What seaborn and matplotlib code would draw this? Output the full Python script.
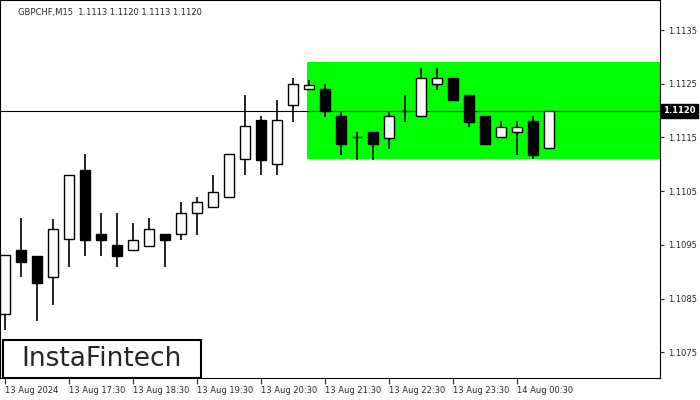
import matplotlib
matplotlib.use("Agg")
import matplotlib.pyplot as plt
import matplotlib.patches as mpatches
import numpy as np
import seaborn as sns

sns.set_style("white")
plt.rcParams['font.family'] = ['DejaVu Sans']

# GBPCHF M15 candles
opens = [1.10821, 1.10940, 1.10929, 1.10890, 1.10961, 1.11089, 1.10970, 1.10949, 1.10940, 1.10948,
         1.10970, 1.10970, 1.11010, 1.11021, 1.11040, 1.11110, 1.11182, 1.11100, 1.11210, 1.11240,
         1.11240, 1.11190, 1.11151, 1.11160, 1.11149, 1.11199, 1.11190, 1.11249, 1.11261, 1.11229,
         1.11190, 1.11151, 1.11160, 1.11180, 1.11130]
closes = [1.10931, 1.10918, 1.10879, 1.10979, 1.11080, 1.10959, 1.10959, 1.10929, 1.10959, 1.10979,
          1.10959, 1.11010, 1.11030, 1.11049, 1.11119, 1.11171, 1.11108, 1.11182, 1.11249, 1.11248,
          1.11199, 1.11138, 1.11151, 1.11138, 1.11190, 1.11199, 1.11261, 1.11261, 1.11220, 1.11179,
          1.11138, 1.11169, 1.11169, 1.11117, 1.11199]
highs = [1.10931, 1.11000, 1.10929, 1.10999, 1.11080, 1.11119, 1.11010, 1.11010, 1.10990, 1.11000,
         1.10970, 1.11030, 1.11040, 1.11080, 1.11119, 1.11229, 1.11190, 1.11220, 1.11261, 1.11257,
         1.11249, 1.11199, 1.11160, 1.11160, 1.11199, 1.11229, 1.11279, 1.11279, 1.11261, 1.11229,
         1.11190, 1.11180, 1.11180, 1.11190, 1.11199]
lows = [1.10791, 1.10890, 1.10808, 1.10838, 1.10908, 1.10929, 1.10929, 1.10908, 1.10940, 1.10948,
        1.10908, 1.10959, 1.10968, 1.11021, 1.11040, 1.11080, 1.11080, 1.11080, 1.11179, 1.11240,
        1.11188, 1.11117, 1.11108, 1.11108, 1.11128, 1.11179, 1.11190, 1.11238, 1.11220, 1.11169,
        1.11138, 1.11151, 1.11117, 1.11110, 1.11130]

box_low, box_high = 1.11110, 1.11290
box_start = 18.9
last_price = 1.1120
price_ticks = [1.1075, 1.1085, 1.1095, 1.1105, 1.1115, 1.1125, 1.1135]
time_labels = ['13 Aug 2024', '13 Aug 17:30', '13 Aug 18:30', '13 Aug 19:30', '13 Aug 20:30',
               '13 Aug 21:30', '13 Aug 22:30', '13 Aug 23:30', '14 Aug 00:30']
time_pos = [0, 4, 8, 12, 16, 20, 24, 28, 32]

fig = plt.figure(figsize=(7, 4), dpi=100)
ax = fig.add_axes([0, 22 / 400, 660 / 700, 378 / 400])

x = np.arange(len(opens))
o = np.array(opens); c = np.array(closes)

ax.add_patch(mpatches.Rectangle((box_start, box_low), 40.94 - box_start, box_high - box_low,
                                facecolor='#00ff00', edgecolor='none', zorder=0))
ax.axhline(last_price, color='black', lw=0.8, zorder=1)

ax.vlines(x, lows, highs, color='black', lw=1.2, zorder=2)
bottoms = np.minimum(o, c)
heights = np.maximum(np.abs(c - o), 0.000004)
colors = ['white' if cc >= oo else 'black' for oo, cc in zip(o, c)]
ax.bar(x, heights, bottom=bottoms, width=0.62, color=colors, edgecolor='black', lw=1.0, zorder=3)

ax.set_xlim(-0.3125, 40.94)
ax.set_ylim(1.10702, 1.11406)

ax.yaxis.tick_right()
ax.set_yticks(price_ticks)
ax.set_yticklabels([f'{p:.4f}' for p in price_ticks], fontsize=6)
ax.tick_params(axis='y', direction='out', length=3, width=0.8, pad=3, right=True)
ax.set_xticks(time_pos)
ax.set_xticklabels(time_labels, fontsize=6, ha='left')
ax.tick_params(axis='x', direction='out', length=4, width=0.8, pad=2, bottom=True)
for s in ax.spines.values():
    s.set_color('black'); s.set_linewidth(0.8)

ax.text(1.005, (last_price - 1.10702) / (1.11406 - 1.10702), f'{last_price:.4f}', transform=ax.transAxes,
        fontsize=6, color='white', va='center', ha='left', fontweight='bold',
        bbox=dict(boxstyle='square,pad=0.3', facecolor='black', edgecolor='black'))

ax.text(18 / 660, 1 - 12 / 378, 'GBPCHF,M15  1.1113 1.1120 1.1113 1.1120', transform=ax.transAxes,
        fontsize=6, va='center', ha='left')

# logo
ax.add_patch(mpatches.Rectangle((3 / 660, 0), 198 / 660, 38 / 378, transform=ax.transAxes,
                                facecolor='white', edgecolor='black', lw=1.5, zorder=5))
ax.text(102 / 660, 19 / 378, 'InstaFintech', transform=ax.transAxes, fontsize=19,
        ha='center', va='center', zorder=6)

fig.savefig('out.png', dpi=100)
